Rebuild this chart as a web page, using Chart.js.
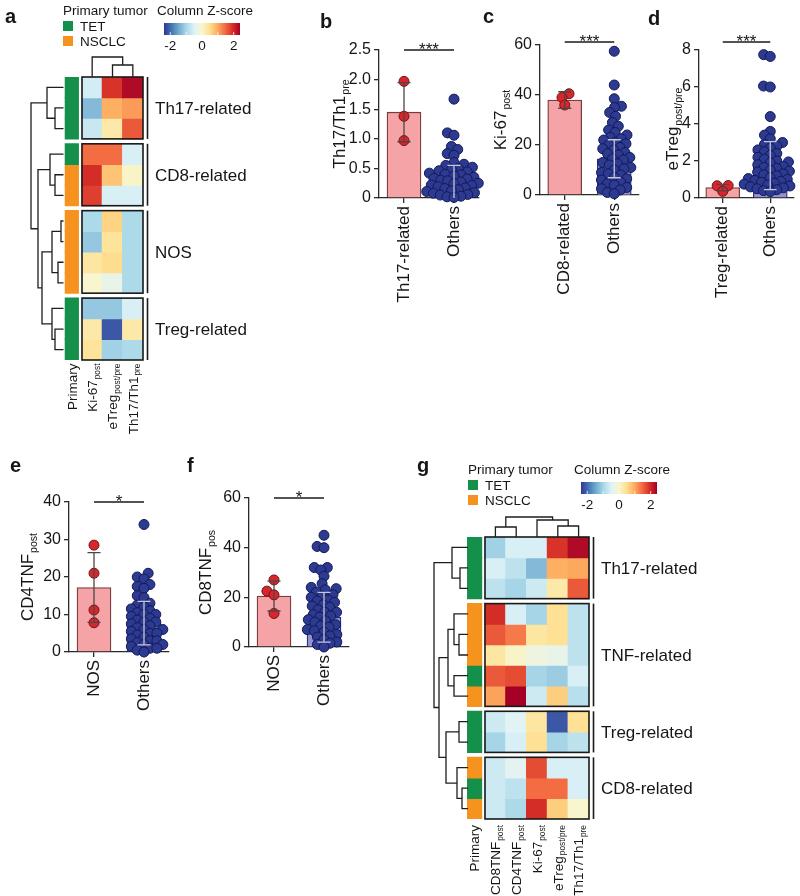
<!DOCTYPE html>
<html>
<head>
<meta charset="utf-8">
<title>Figure</title>
<script src="https://cdn.jsdelivr.net/npm/chart.js@4.4.1/dist/chart.umd.min.js"></script>
<style>
html,body{margin:0;padding:0;background:#ffffff;}
#wrap{position:relative;width:800px;height:896px;overflow:hidden;background:#fff;}
#wrap canvas{position:absolute;left:0;top:0;}
</style>
</head>
<body>
<div id="wrap"></div>
<script>
// ======================= DATA =======================
// ---- Panel a : heatmap ----
const colsA = ['Ki-67_post', 'eTreg_post/pre', 'Th17/Th1_pre'];
const groupNamesA = ['Th17-related', 'CD8-related', 'NOS', 'Treg-related'];
const groupSizesA = [3, 3, 4, 3];
const primaryA = ['TET','TET','TET','TET','NSCLC','NSCLC','NSCLC','NSCLC','NSCLC','NSCLC','TET','TET','TET'];
const zA = [
  [-0.60,  1.90,  2.30],
  [-1.30,  0.95,  1.10],
  [-0.70,  0.30,  1.60],
  [ 1.45,  1.45, -0.55],
  [ 1.95,  0.75,  0.05],
  [ 1.80, -0.55, -0.55],
  [-0.95,  0.60, -0.95],
  [-1.15,  0.40, -0.95],
  [ 0.35,  0.50, -0.95],
  [ 0.00, -0.30, -0.95],
  [-1.15, -1.15, -0.55],
  [ 0.30, -2.15,  0.30],
  [ 0.40, -1.05, -0.95]
];
// merges: [childA, childB, height]; children < 13 are rows, >= 13 are earlier merges
const rowMergesA = [[1,2,8.5],[0,13,16.5],[4,5,8.5],[3,15,13.5],[6,7,2.5],[8,9,5.5],[17,18,11.5],[11,12,8.5],[10,20,11.5],[19,21,21.5],[16,22,25.5],[14,23,32.5]];
const colMergesA = [[1,2,12],[0,3,20]];

// ---- Panel g : heatmap ----
const colsG = ['CD8TNF_post', 'CD4TNF_post', 'Ki-67_post', 'eTreg_post/pre', 'Th17/Th1_pre'];
const groupNamesG = ['Th17-related', 'TNF-related', 'Treg-related', 'CD8-related'];
const groupSizesG = [3, 5, 2, 3];
const primaryG = ['TET','TET','TET','NSCLC','NSCLC','NSCLC','TET','NSCLC','TET','TET','NSCLC','TET','NSCLC'];
const zG = [
  [-1.05, -0.55, -0.55,  1.90,  2.30],
  [-0.55, -0.80, -1.30,  0.95,  1.00],
  [-0.80, -1.00, -0.65,  0.30,  1.60],
  [ 1.95, -0.55, -1.00,  0.45, -0.80],
  [ 1.60,  1.35,  0.35,  0.45, -0.80],
  [ 0.35,  0.05, -0.20, -0.30, -0.80],
  [ 1.60,  1.70, -1.00, -1.10, -0.55],
  [ 1.05,  2.40, -0.65,  0.65, -0.85],
  [-0.65, -0.45,  0.35, -2.15,  0.45],
  [-1.00, -0.55,  0.45, -1.00, -0.80],
  [-0.65, -0.40,  1.70, -0.55, -0.55],
  [-0.65, -0.80,  1.45,  1.45, -0.55],
  [-0.65, -0.95,  1.95,  0.65,  0.00]
];
const rowMergesG = [[1,2,8],[0,13,16],[4,5,9],[3,15,14],[6,7,14],[16,17,20],[8,9,9],[11,12,6],[10,20,11],[19,21,22],[18,22,29],[14,23,34]];
const colMergesG = [[0,1,10],[3,4,11],[2,6,17],[5,7,20]];

const primaryNames = ['TET', 'NSCLC'];
const zTicks = [-2, 0, 2];
const zTickLabels = ['-2', '0', '2'];

// ---- Panel b ----
const catsB = ['Th17-related', 'Others'];
const meanB = [1.45, 0.27];
const sdB = [0.50, 0.28];
const redB = [1.97, 1.38, 0.97];
const blueB = [1.67,1.10,1.06,0.87,0.82,0.75,0.72,0.60,0.57,0.55,0.52,0.50,0.48,0.46,0.44,0.42,0.40,0.39,0.37,0.35,0.33,0.32,0.30,0.29,0.27,0.25,0.24,0.22,0.21,0.19,0.17,0.16,0.14,0.12,0.11,0.09,0.08,0.06,0.05,0.03,0.02,0.01];
const yTicksB = [0, 0.5, 1, 1.5, 2, 2.5];
const yTickLabelsB = ['0', '0.5', '1.0', '1.5', '2.0', '2.5'];

// ---- Panel c ----
const catsC = ['CD8-related', 'Others'];
const meanC = [38.0, 14.5];
const sdC = [3.3, 7.6];
const redC = [40.5, 39.0, 36.0];
const blueC = [57.5,44,38.5,35.5,35,33,31.5,29,27.5,26,25,24,23,22.5,22,21,20.5,20,19,18.5,18,17,16.5,16,15,14.5,14,13,12.5,12,11,10.5,10,9,8.5,8,7,6.5,6,5,4.5,4,3,2.5,2,1,0.5];
const yTicksC = [0, 20, 40, 60];
const yTickLabelsC = ['0', '20', '40', '60'];

// ---- Panel d ----
const catsD = ['Treg-related', 'Others'];
const meanD = [0.56, 1.75];
const sdD = [0.18, 1.30];
const redD = [0.67, 0.66, 0.36];
const blueD = [7.75,7.65,6.05,6.0,4.4,3.6,3.4,3.2,3.0,2.9,2.8,2.7,2.6,2.5,2.4,2.3,2.2,2.1,2.0,1.95,1.9,1.8,1.7,1.65,1.6,1.5,1.45,1.4,1.3,1.25,1.2,1.1,1.05,1.0,0.95,0.9,0.85,0.8,0.75,0.7,0.65,0.6,0.55,0.5,0.45,0.4,0.35];
const yTicksD = [0, 2, 4, 6, 8];
const yTickLabelsD = ['0', '2', '4', '6', '8'];

// ---- Panel e ----
const catsE = ['NOS', 'Others'];
const meanE = [17.2, 7.7];
const sdE = [9.3, 5.8];
const redE = [28.5, 21.0, 11.2, 7.8];
const blueE = [34,21,20,19.5,18,17.5,17,15,14.5,13,12.5,12,11.5,11,10.5,10,10,9.5,9,8.5,8,8,7.5,7,6.5,6,6,5.5,5,5,4.5,4,3.5,3,3,2.5,2,2,1.5,1,1,0.5,0];
const yTicksE = [0, 10, 20, 30, 40];
const yTickLabelsE = ['0', '10', '20', '30', '40'];

// ---- Panel f ----
const catsF = ['NOS', 'Others'];
const meanF = [20.5, 12.0];
const sdF = [6.0, 10.0];
const redF = [27.0, 22.5, 21.0, 13.5];
const blueF = [45,40.5,40,32,32,31,28.5,25.5,24,23.5,23,22,21,20.5,20,19,18.5,18,17,16.5,16,15,14,14,13,12.5,12,11,10.5,10,9,8.5,8,7,6.5,6,5,4.5,4,3,2,1.5,1,0];
const yTicksF = [0, 20, 40, 60];
const yTickLabelsF = ['0', '20', '40', '60'];

// ======================= STYLE / LAYOUT =======================
const FONT = "'Liberation Sans', Arial, Helvetica, sans-serif";
const INK = '#161616';
Chart.defaults.font.family = FONT;
Chart.defaults.color = INK;

const W = 800, H = 896;
const CMAP = ['#313695','#4575b4','#74add1','#abd9e9','#e0f3f8','#f8f5cf','#fee090','#fdae61','#f46d43','#d73027','#a50026'];
const ZMIN = -2.4, ZMAX = 2.4;
const PRIMARY_COLORS = { TET: '#15904a', NSCLC: '#f6921e' };
const GROUP_GAP = 0.24;
const PT_R = 5;
const SWARM_OVERLAP = 0.7;

const wrap = document.getElementById('wrap');
function newCanvas() {
  const c = document.createElement('canvas');
  c.width = W; c.height = H;
  c.style.width = W + 'px'; c.style.height = H + 'px';
  wrap.appendChild(c);
  return c;
}
function hex2rgb(h) { return [1,3,5].map(i => parseInt(h.slice(i, i+2), 16)); }
const CMAP_RGB = CMAP.map(hex2rgb);
function zColor(z) {
  let t = (z - ZMIN) / (ZMAX - ZMIN); t = Math.max(0, Math.min(1, t));
  const p = t * (CMAP.length - 1);
  const i = Math.min(Math.floor(p), CMAP.length - 2);
  const f = p - i, a = CMAP_RGB[i], b = CMAP_RGB[i+1];
  return 'rgb(' + a.map((v,k) => Math.round(v + (b[k]-v)*f)).join(',') + ')';
}
function setFont(ctx, size, weight) { ctx.font = (weight || 'normal') + ' ' + size + 'px ' + FONT; }
function drawText(ctx, str, x, y, size, opt) {
  opt = opt || {};
  ctx.save(); setFont(ctx, size, opt.weight); ctx.fillStyle = opt.color || INK;
  ctx.textAlign = opt.align || 'left'; ctx.textBaseline = opt.baseline || 'alphabetic';
  ctx.fillText(str, x, y); ctx.restore();
}
// label "main_sub" -> main text with subscript
function drawRich(ctx, label, x, y, size, opt) {
  opt = opt || {};
  const k = label.indexOf('_');
  const main = k < 0 ? label : label.slice(0, k);
  const sub = k < 0 ? '' : label.slice(k + 1);
  const subSize = size * 0.62;
  ctx.save();
  ctx.translate(x, y);
  if (opt.rotate) ctx.rotate(-Math.PI / 2);
  ctx.fillStyle = opt.color || INK;
  ctx.textAlign = 'left'; ctx.textBaseline = 'alphabetic';
  setFont(ctx, size); const wM = ctx.measureText(main).width;
  setFont(ctx, subSize); const wS = sub ? ctx.measureText(sub).width + 1 : 0;
  const Wt = wM + wS;
  const x0 = opt.align === 'right' ? -Wt : (opt.align === 'left' ? 0 : -Wt / 2);
  const base = size * 0.36;
  setFont(ctx, size); ctx.fillText(main, x0, base);
  if (sub) { setFont(ctx, subSize); ctx.fillText(sub, x0 + wM + 1, base + size * 0.2); }
  ctx.restore();
}
function baseOptions(pad) {
  return {
    responsive: false, devicePixelRatio: 1, animation: false, events: [],
    layout: { padding: pad },
    plugins: { legend: { display: false }, tooltip: { enabled: false } }
  };
}

// ---------- beeswarm layout (pixel offsets) ----------
function swarm(vals, pyu, diam) {
  const idx = vals.map((v, i) => i).sort((a, b) => vals[a] - vals[b]);
  const placed = [], off = new Array(vals.length).fill(0);
  idx.forEach(i => {
    const y = vals[i] * pyu;
    const near = placed.filter(p => Math.abs(p.y - y) < diam);
    const cands = [0];
    near.forEach(p => { const dx = Math.sqrt(diam*diam - (p.y - y)*(p.y - y)); cands.push(p.x + dx, p.x - dx); });
    cands.sort((a, b) => (Math.abs(a) - Math.abs(b)) || (a - b));
    let x = 0;
    for (const c of cands) {
      if (near.every(p => (p.x - c)*(p.x - c) + (p.y - y)*(p.y - y) >= diam*diam - 1e-6)) { x = c; break; }
    }
    placed.push({ x, y }); off[i] = x;
  });
  return off;
}

// ---------- bar + scatter panels ----------
const Y_AXIS_W = 60, X_AXIS_H = 110;
function barPanel(s) {
  const [L, T, R, B] = s.area;
  const yMax = s.yTicks[s.yTicks.length - 1];
  const pyu = (B - T) / (yMax - s.yTicks[0]);
  const pxu = (R - L) / 2;
  const diam = 2 * PT_R * SWARM_OVERLAP;
  const offA = swarm(s.red, pyu, 2 * PT_R * 0.8), offB = swarm(s.blue, pyu, diam);
  const ptsA = s.red.map((v, i) => ({ x: 0 + offA[i] / pxu, y: v }));
  const ptsB = s.blue.map((v, i) => ({ x: 1 + offB[i] / pxu, y: v }));
  const cap = 6.5 / pxu;
  const N = { x: null, y: null };
  const err = g => {
    const hi = s.mean[g] + s.sd[g], lo = s.mean[g] - s.sd[g];
    return [{x: g - cap, y: hi}, {x: g + cap, y: hi}, N, {x: g, y: hi}, {x: g, y: lo}, N, {x: g - cap, y: lo}, {x: g + cap, y: lo}];
  };
  const axisLine = { display: true, color: '#2a2a2a', width: 1.3 };
  const gridOpt = { drawOnChartArea: false, drawTicks: true, tickLength: 5, color: '#2a2a2a', lineWidth: 1.3, offset: false };
  const opts = baseOptions({ left: L - Y_AXIS_W, top: T, right: W - R, bottom: H - B - X_AXIS_H });
  opts.scales = {
    x: { type: 'linear', min: -0.5, max: 1.5, offset: false, grid: gridOpt, border: axisLine,
         afterBuildTicks: a => { a.ticks = s.cats.map((c, i) => ({ value: i })); },
         ticks: { font: { size: 17 }, color: INK, minRotation: 90, maxRotation: 90, padding: 3, autoSkip: false,
                  callback: v => { const i = Math.round(v); return (Math.abs(v - i) < 1e-9 && s.cats[i]) ? s.cats[i] : ''; } },
         afterFit: a => { a.height = X_AXIS_H; } },
    y: { type: 'linear', min: s.yTicks[0], max: yMax, offset: false, grid: gridOpt, border: axisLine,
         ticks: { font: { size: 16 }, color: INK, padding: 3,
                  callback: v => { const i = s.yTicks.findIndex(t => Math.abs(t - v) < 1e-9); return i >= 0 ? s.yTickLabels[i] : ''; } },
         afterBuildTicks: a => { a.ticks = s.yTicks.map(v => ({ value: v })); },
         afterFit: a => { a.width = Y_AXIS_W; } }
  };
  new Chart(newCanvas(), {
    type: 'bar',
    data: {
      datasets: [
        { type: 'bar', data: s.mean.map((m, i) => ({ x: i, y: m })), backgroundColor: ['#f5a3a6', '#9293d0'],
          borderColor: ['#7a3c3c', '#2d3080'], borderWidth: 1.3, barThickness: 34, borderSkipped: 'start', order: 4 },
        { type: 'scatter', data: ptsA, pointRadius: PT_R, pointBackgroundColor: '#d8262c',
          pointBorderColor: '#6e1518', pointBorderWidth: 1, clip: false, order: 3 },
        { type: 'scatter', data: ptsB, pointRadius: PT_R, pointBackgroundColor: '#2c3a91',
          pointBorderColor: '#141a55', pointBorderWidth: 1, clip: false, order: 3 },
        { type: 'line', data: err(0), borderColor: '#4f4545', borderWidth: 1.3,
          pointRadius: 0, spanGaps: false, fill: false, order: 2 },
        { type: 'line', data: err(1), borderColor: '#c6c6d8', borderWidth: 1.3,
          pointRadius: 0, spanGaps: false, fill: false, order: 2 },
        { type: 'line', data: [{x: 0, y: s.sig}, {x: 1, y: s.sig}], borderColor: '#1a1a1a',
          borderWidth: 1.5, pointRadius: 0, clip: false, fill: false, order: 1 }
      ]
    },
    options: opts,
    plugins: [{
      id: 'extras',
      afterDraw(chart) {
        const ctx = chart.ctx, ca = chart.chartArea, ys = chart.scales.y, xs = chart.scales.x;
        drawText(ctx, s.letter, s.letterPos[0], s.letterPos[1], 20, { weight: 'bold' });
        drawRich(ctx, s.title, ca.left - s.titleOff, (ca.top + ca.bottom) / 2 + (s.titleDy || 0), 17, { rotate: true, align: 'center' });
        drawText(ctx, s.stars, xs.getPixelForValue(0.5), ys.getPixelForValue(s.sig) + 4.5, 17, { align: 'center' });
      }
    }]
  });
}

// ---------- dendrogram ----------
function dendroChart(merges, leafPos, orient, area, xr, yr) {
  const pos = leafPos.slice(), ht = new Array(leafPos.length).fill(0);
  const datasets = [];
  merges.forEach(([a, b, h]) => {
    const pts = [[ht[a], pos[a]], [h, pos[a]], [h, pos[b]], [ht[b], pos[b]]];
    datasets.push({
      data: pts.map(([hh, p]) => orient === 'row' ? { x: hh, y: p } : { x: p, y: hh }),
      showLine: true, pointRadius: 0, borderColor: '#1e1e1e', borderWidth: 1.3, clip: false, fill: false, tension: 0
    });
    pos.push((pos[a] + pos[b]) / 2); ht.push(h);
  });
  const opts = baseOptions({ left: area[0], top: area[1], right: W - area[2], bottom: H - area[3] });
  opts.scales = {
    x: { type: 'linear', display: false, min: xr[0], max: xr[1], reverse: !!xr[2] },
    y: { type: 'linear', display: false, min: yr[0], max: yr[1], reverse: !!yr[2] }
  };
  new Chart(newCanvas(), { type: 'scatter', data: { datasets }, options: opts });
}

// ---------- heatmap panels ----------
function heatPanel(s) {
  const nC = s.cols.length;
  const rowY = [], groups = [];
  let y = 0;
  s.groupSizes.forEach((n, gi) => {
    const y0 = y;
    for (let i = 0; i < n; i++) { rowY.push(y); y += 1; }
    groups.push({ name: s.groupNames[gi], y0, y1: y });
    y += GROUP_GAP;
  });
  const yMax = y - GROUP_GAP;
  const datasets = [];
  s.z.forEach((row, r) => {
    datasets.push({ data: [null].concat(row.map(() => [rowY[r], rowY[r] + 1])),
      backgroundColor: ['rgba(0,0,0,0)'].concat(row.map(zColor)),
      barPercentage: 1, categoryPercentage: 1, grouped: false, borderWidth: 0, inflateAmount: 0.6 });
    datasets.push({ data: [[rowY[r], rowY[r] + 1]].concat(row.map(() => null)),
      backgroundColor: PRIMARY_COLORS[s.primary[r]],
      barPercentage: s.primaryWidth, categoryPercentage: 1, grouped: false, borderWidth: 0, inflateAmount: 0.6 });
  });
  const hm = s.heat;
  const catW = (hm.right - hm.left) / nC;
  const opts = baseOptions({ left: hm.left - catW, top: hm.top, right: W - hm.right, bottom: H - hm.bottom });
  opts.scales = {
    x: { type: 'category', display: false, offset: true },
    y: { type: 'linear', display: false, min: 0, max: yMax, reverse: true }
  };
  new Chart(newCanvas(), {
    type: 'bar',
    data: { labels: ['Primary'].concat(s.cols), datasets },
    options: opts,
    plugins: [{
      id: 'heatExtras',
      afterDraw(chart) {
        const ctx = chart.ctx, ca = chart.chartArea, xs = chart.scales.x, ys = chart.scales.y;
        const hx0 = xs.getPixelForValue(1) - catW / 2;
        ctx.save();
        ctx.strokeStyle = '#1a1a1a'; ctx.lineWidth = 1.6;
        groups.forEach(g => {
          const yt = ys.getPixelForValue(g.y0), yb = ys.getPixelForValue(g.y1);
          ctx.strokeRect(hx0, yt, ca.right - hx0, yb - yt);
          ctx.beginPath(); ctx.moveTo(ca.right + 4.5, yt); ctx.lineTo(ca.right + 4.5, yb); ctx.stroke();
          drawText(ctx, g.name, ca.right + 12, (yt + yb) / 2 + 6, 17);
        });
        ctx.restore();
        ['Primary'].concat(s.cols).forEach((lab, i) => {
          drawRich(ctx, lab, xs.getPixelForValue(i), ca.bottom + s.labelGap, 13.5, { rotate: true, align: 'right' });
        });
        drawText(ctx, s.letter, s.letterPos[0], s.letterPos[1], 20, { weight: 'bold' });
        const lx = s.legend[0], ly = s.legend[1];
        drawText(ctx, 'Primary tumor', lx, ly, 13.5);
        primaryNames.forEach((nm, i) => {
          ctx.fillStyle = PRIMARY_COLORS[nm];
          ctx.fillRect(lx, ly + 6 + i * 15, 10, 10);
          drawText(ctx, nm, lx + 17, ly + 16 + i * 14.5, 13.5);
        });
        const zx = s.zLegend[0];
        drawText(ctx, 'Column Z-score', zx, ly, 13.5);
        const bx = zx + 7, by = ly + 8, bw = 76, bh = 12;
        const grad = ctx.createLinearGradient(bx, 0, bx + bw, 0);
        CMAP.forEach((c, i) => grad.addColorStop(i / (CMAP.length - 1), c));
        ctx.fillStyle = grad; ctx.fillRect(bx, by, bw, bh);
        ctx.save(); ctx.strokeStyle = 'rgba(255,255,255,0.75)'; ctx.lineWidth = 1;
        [-2, -1, 0, 1, 2].forEach(v => {
          const px = bx + (v - ZMIN) / (ZMAX - ZMIN) * bw;
          ctx.beginPath(); ctx.moveTo(px, by + bh - 3); ctx.lineTo(px, by + bh); ctx.stroke();
        });
        ctx.restore();
        zTicks.forEach((v, i) => {
          const px = bx + (v - ZMIN) / (ZMAX - ZMIN) * bw;
          drawText(ctx, zTickLabels[i], px, ly + 35, 13.5, { align: 'center' });
        });
      }
    }]
  });
  const leafPos = rowY.map(v => v + 0.5);
  const rd = s.rowDend;
  dendroChart(s.rowMerges, leafPos, 'row', [rd.left, hm.top, rd.right, hm.bottom], [0, rd.right - rd.left, true], [0, yMax, true]);
  dendroChart(s.colMerges, s.cols.map((c, i) => i), 'col', [hm.left, hm.top - 20, hm.right, hm.top], [-0.5, nC - 0.5, false], [0, 20, false]);
}

// ======================= BUILD =======================
heatPanel({ cols: colsA, groupNames: groupNamesA, groupSizes: groupSizesA, primary: primaryA, z: zA,
  rowMerges: rowMergesA, colMerges: colMergesA, primaryWidth: 0.64,
  heat: { left: 82, right: 143, top: 77, bottom: 360 }, rowDend: { left: 30, right: 63.5 },
  labelGap: 3.5, letter: 'a', letterPos: [5, 23], legend: [63, 15], zLegend: [157] });

heatPanel({ cols: colsG, groupNames: groupNamesG, groupSizes: groupSizesG, primary: primaryG, z: zG,
  rowMerges: rowMergesG, colMerges: colMergesG, primaryWidth: 0.67,
  heat: { left: 485, right: 589, top: 537, bottom: 819 }, rowDend: { left: 433, right: 468 },
  labelGap: 6, letter: 'g', letterPos: [417, 472], legend: [468, 474], zLegend: [574] });

barPanel({ cats: catsB, mean: meanB, sd: sdB, red: redB, blue: blueB, yTicks: yTicksB, yTickLabels: yTickLabelsB,
  area: [379, 50, 479, 198], title: 'Th17/Th1_pre', titleOff: 40, letter: 'b', letterPos: [320, 28], sig: 2.5, stars: '***' });
barPanel({ cats: catsC, mean: meanC, sd: sdC, red: redC, blue: blueC, yTicks: yTicksC, yTickLabels: yTickLabelsC,
  area: [540, 45, 639, 195], title: 'Ki-67_post', titleOff: 40, letter: 'c', letterPos: [483, 23], sig: 61.2, stars: '***' });
barPanel({ cats: catsD, mean: meanD, sd: sdD, red: redD, blue: blueD, yTicks: yTicksD, yTickLabels: yTickLabelsD,
  area: [699, 50, 797, 198], title: 'eTreg_post/pre', titleOff: 27, titleDy: 5, letter: 'd', letterPos: [648, 25], sig: 8.43, stars: '***' });
barPanel({ cats: catsE, mean: meanE, sd: sdE, red: redE, blue: blueE, yTicks: yTicksE, yTickLabels: yTickLabelsE,
  area: [69, 502, 169, 652], title: 'CD4TNF_post', titleOff: 42, letter: 'e', letterPos: [10, 472], sig: 40, stars: '*' });
barPanel({ cats: catsF, mean: meanF, sd: sdF, red: redF, blue: blueF, yTicks: yTicksF, yTickLabels: yTickLabelsF,
  area: [249, 498, 349, 647], title: 'CD8TNF_pos', titleOff: 44, letter: 'f', letterPos: [187, 472], sig: 60, stars: '*' });
</script>
</body>
</html>
